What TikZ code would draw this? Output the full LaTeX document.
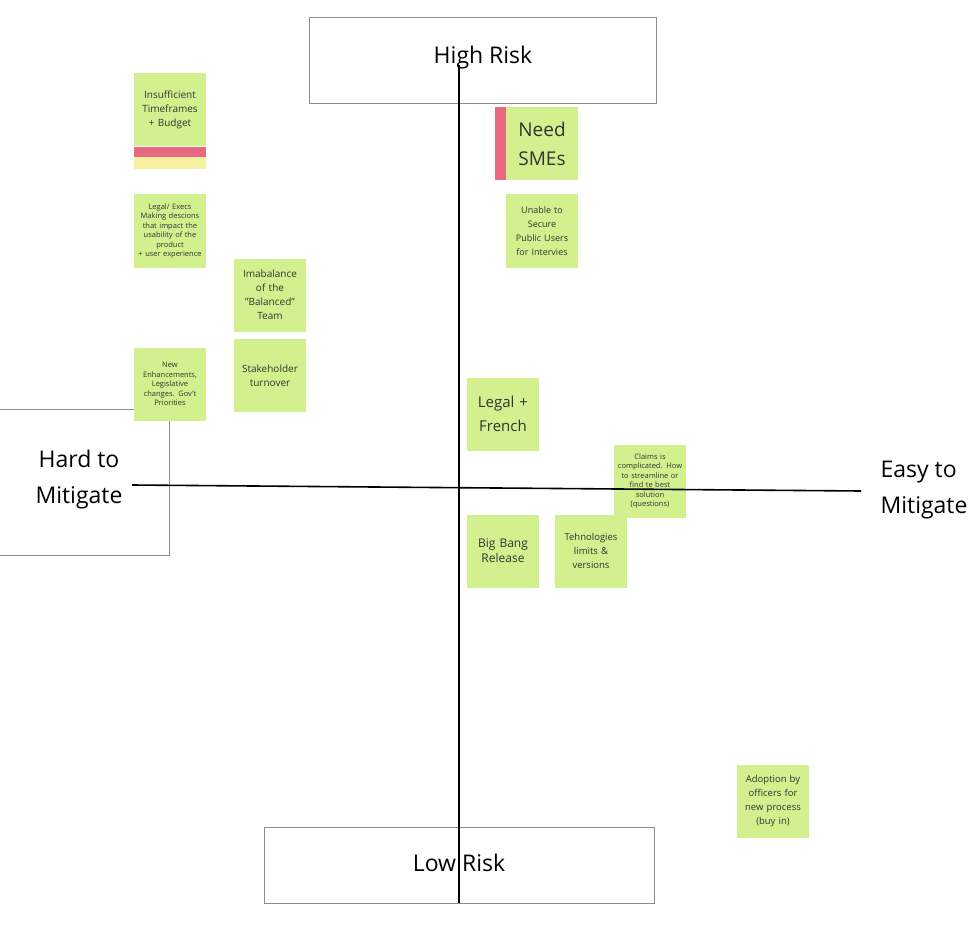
\documentclass[tikz,border=0pt]{standalone}
\usepackage{fontspec}
\setmainfont{Open Sans}
\usetikzlibrary{positioning}
\definecolor{notegreen}{RGB}{211,240,142}
\definecolor{notered}{RGB}{232,106,128}
\definecolor{noteyellow}{RGB}{246,240,160}
\tikzset{
  sticky/.style={
    minimum width=72pt,
    minimum height=73pt,
    inner sep=0pt,
    text width=68pt,
    align=center,
    fill=notegreen,
    text=black!80
  },
  tiny/.style={font=\fontsize{7.5}{9.5}\selectfont},
  small/.style={font=\fontsize{10}{14}\selectfont},
  large/.style={font=\fontsize{12}{15}\selectfont},
  huge/.style={font=\fontsize{19}{29}\selectfont},
  frame/.style={draw=black!45, line width=0.6pt},
  label/.style={font=\fontsize{23}{36}\selectfont, align=left},
  axis/.style={draw=black, line width=1.6pt}
}
\begin{document}
\begin{tikzpicture}[x=1pt, y=-1pt]
    \useasboundingbox (0,0) rectangle (974,928);
    % frames
    \draw [frame] (309,17) rectangle (656,103);
    \draw [frame] (264,827) rectangle (654,903);
    \draw [frame] (-1,409) rectangle (169,555);
    % left column
    \node (budgetY) [sticky, minimum height=13pt, fill=noteyellow] at (170,163) {};
    \node (budgetR) [sticky, minimum height=10pt, fill=notered] at (170,152) {};
    \node (budget) [sticky, small, anchor=north] at (170,73) {Insufficient \\ Timeframes \\ + Budget\\[14pt]};
    \node (execs) [sticky, tiny] at (170,231) {Legal/ Execs \\ Making descions \\ that impact the \\ usability of the \\ product \\ + user experience};
    \node (enhance) [sticky, tiny] at (170,384) {New \\ Enhancements, \\ Legislative \\ changes. Gov't \\ Priorities};
    \node (team) [sticky, small] at (270,295) {Imabalance \\ of the \\ "Balanced" \\ Team};
    \node (turnover) [sticky, small, below=7pt of team] {Stakeholder \\ turnover\\[16pt]};
    % right side
    \node (smesR) [sticky, minimum width=12pt, text width=10pt, fill=notered] at (501,144) {};
    \node (smes) [sticky, huge] at (542,144) {Need \\ SMEs};
    \node (users) [sticky, tiny, font=\fontsize{9}{14}\selectfont] at (542,231) {Unable to \\ Secure \\ Public Users \\ for Intervies\\[8pt]};
    \node (french) [sticky, large, font=\fontsize{15}{24}\selectfont] at (503,414) {Legal + \\ French};
    \node (claims) [sticky, tiny] at (650,481) {Claims is \\ complicated. How \\ to streamline or \\ find te best \\ solution \\ (questions)};
    \node (bigbang) [sticky, large] at (503,551) {Big Bang \\ Release};
    \node (tech) [sticky, tiny, font=\fontsize{9.5}{14}\selectfont] at (591,551) {Tehnologies \\ limits \& \\ versions\\[8pt]};
    \node (adopt) [sticky, tiny, font=\fontsize{9.5}{14}\selectfont] at (773,801) {Adoption by \\ officers for \\ new process \\ (buy in)};
    % axes
    \coordinate (top) at (459,65);
    \coordinate (bottom) at (459,903);
    \coordinate (west) at (132,485);
    \coordinate (east) at (861,491);
    \draw [axis] (top) -- (bottom);
    \draw [axis] (west) -- (east);
    % labels
    \node (high) [label] at (483,58) {High Risk};
    \node (low) [label] at (459,863) {Low Risk};
    \node (hard) [label, align=center] at (79,480) {Hard to \\ Mitigate};
    \node (easy) [label] at (924,490) {Easy to \\ Mitigate};
\end{tikzpicture}
\end{document}
